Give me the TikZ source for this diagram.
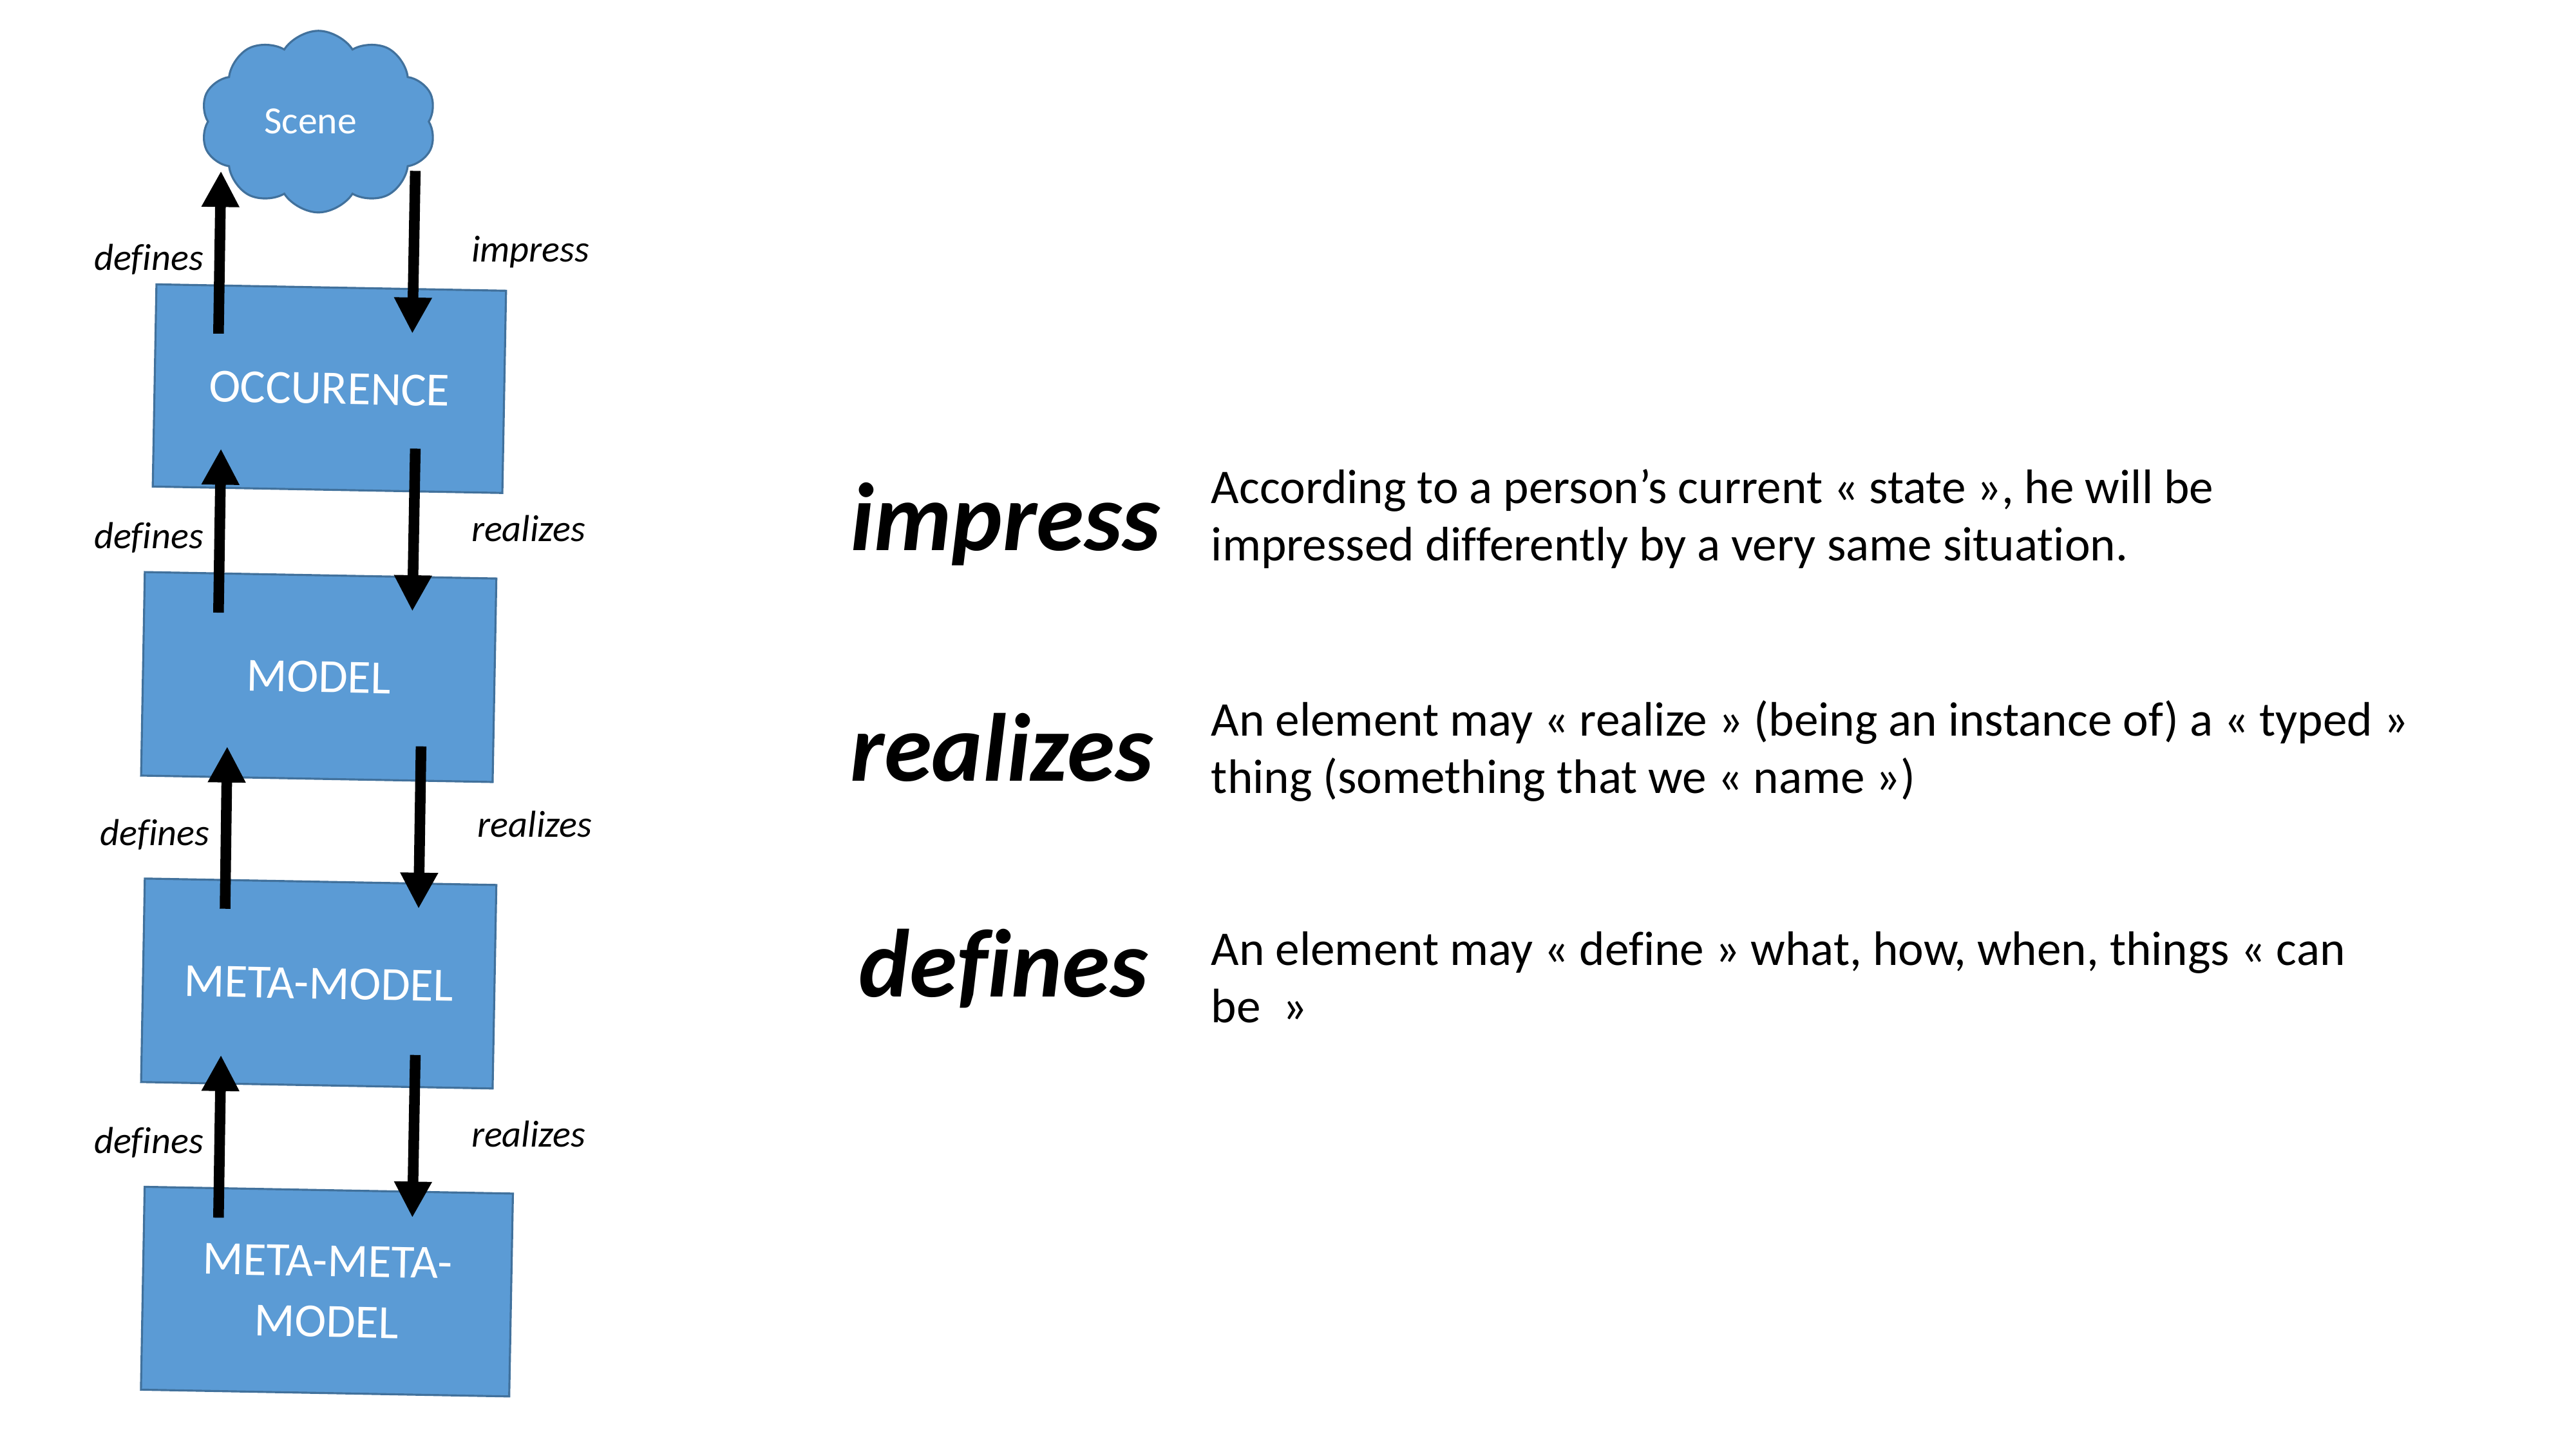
\documentclass[tikz,border=0pt]{standalone}
\usepackage{fontspec}
\setmainfont{Carlito}[Ligatures={NoCommon}]
\usetikzlibrary{arrows.meta,shapes.symbols}
\definecolor{boxfill}{HTML}{5B9BD5}
\definecolor{boxline}{HTML}{41719C}
\begin{document}
\begin{tikzpicture}[x=0.02551cm, y=-0.02551cm,
  lvl/.style={draw=boxline, line width=0.9pt, fill=boxfill, text=white, rotate=-1.05,
    inner sep=0pt, font=\fontsize{21}{26.8}\selectfont, align=center},
  cloudbox/.style={cloud, cloud puffs=10, cloud puff arc=115, aspect=1.3, draw=boxline,
    line width=0.9pt, fill=boxfill, text=white, inner sep=0pt, font=\fontsize{17}{20}\selectfont},
  conn/.style={line width=4.7pt, -{Triangle[width=0.55cm,length=0.56cm]}},
  lab/.style={font=\fontsize{16.6}{19}\selectfont\itshape, anchor=base west, inner sep=0pt},
  big/.style={font=\fontsize{42.7}{50}\selectfont\bfseries\itshape, anchor=base west, inner sep=0pt},
  desc/.style={font=\fontsize{21.4}{25.3}\selectfont, anchor=base west, inner sep=0pt}
]
\fill[white] (0,0) rectangle (1568,882);
\useasboundingbox (0,0) rectangle (1568,882);

% cloud and boxes
\node[cloudbox, minimum width=3.66cm, minimum height=2.82cm] (scene) at (193.8,74) {Scene\hspace*{7pt}};
\node[lvl, minimum width=5.43cm, minimum height=3.14cm] (occ) at (200.5,236.5) {OCCURENCE};
\node[lvl, minimum width=5.46cm, minimum height=3.16cm] (model) at (194,412) {MODEL};
\node[lvl, minimum width=5.46cm, minimum height=3.16cm] (meta) at (194,598.5) {META-MODEL};
\node[lvl, minimum width=5.72cm, minimum height=3.15cm] (mmm) at (199,786) {META-META-\\MODEL};

% arrow end points
\coordinate (u1s) at (133,203);   \coordinate (u1e) at (134.5,104);
\coordinate (d1s) at (252.8,104); \coordinate (d1e) at (251,203);
\coordinate (u2s) at (133,372.8); \coordinate (u2e) at (134.5,273);
\coordinate (d2s) at (252.8,273); \coordinate (d2e) at (251,372);
\coordinate (u3s) at (137,553);   \coordinate (u3e) at (138.3,454.2);
\coordinate (d3s) at (256.3,454.2); \coordinate (d3e) at (254.8,553);
\coordinate (u4s) at (133,741);   \coordinate (u4e) at (134.5,642);
\coordinate (d4s) at (252.8,642); \coordinate (d4e) at (251,741);

\draw[conn] (u1s) -- (u1e);
\draw[conn] (d1s) -- (d1e);
\draw[conn] (u2s) -- (u2e);
\draw[conn] (d2s) -- (d2e);
\draw[conn] (u3s) -- (u3e);
\draw[conn] (d3s) -- (d3e);
\draw[conn] (u4s) -- (u4e);
\draw[conn] (d4s) -- (d4e);

% connector labels
\node[lab] (l1) at (57,164.5) {defines};
\node[lab] (l2) at (286.7,159.5) {impress};
\node[lab] (l3) at (57,333.7) {defines};
\node[lab] (l4) at (286.7,329.3) {realizes};
\node[lab] (l5) at (60.8,514.6) {defines};
\node[lab] (l6) at (290.5,509.4) {realizes};
\node[lab] (l7) at (57,702) {defines};
\node[lab] (l8) at (286.7,698) {realizes};

% glossary
\node[big] (w1) at (517.3,335) {impress};
\node[big] (w2) at (517.3,475.1) {realizes};
\node[big] (w3) at (522.5,606.5) {defines};

\node[desc] (t1) at (737,306.5) {\begin{tabular}[t]{@{}l@{}}According to a person’s current « state », he will be\\impressed differently by a very same situation.\end{tabular}};
\node[desc] (t2) at (737,448) {\begin{tabular}[t]{@{}l@{}}An element may « realize » (being an instance of) a « typed »\\thing (something that we « name »)\end{tabular}};
\node[desc] (t3) at (737,587.5) {\begin{tabular}[t]{@{}l@{}}An element may « define » what, how, when, things « can\\be\ \ »\end{tabular}};
\end{tikzpicture}
\end{document}
